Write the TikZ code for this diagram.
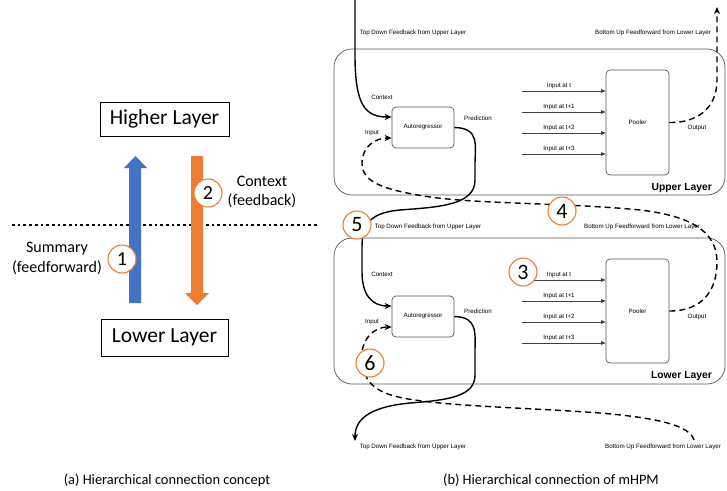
\documentclass[tikz,border=0pt]{standalone}
\usepackage{fontspec}
\setmainfont{Carlito}
\newfontfamily\hv{Liberation Sans}
\usetikzlibrary{arrows.meta,calc}
\definecolor{offblue}{HTML}{4472C4}
\definecolor{offorange}{HTML}{ED7D31}
\definecolor{boxgray}{HTML}{555555}
\begin{document}
\begin{tikzpicture}[x=1pt,y=-1pt,
  numcircl/.style={circle,draw=offorange,line width=1.1pt,fill=white,minimum size=28pt,inner sep=0pt,font=\fontsize{20}{20}\selectfont},
  numcircr/.style={circle,draw=offorange,line width=1.1pt,fill=white,minimum size=28pt,inner sep=0pt,font=\fontsize{22}{22}\selectfont},
  bigbox/.style={draw,line width=0.9pt,inner sep=0pt,font=\fontsize{21.5}{21.5}\selectfont},
  sidetext/.style={align=center,inner sep=0pt,font=\fontsize{16}{19.5}\selectfont},
  caption/.style={inner sep=0pt,font=\fontsize{14.4}{16}\selectfont},
  layerbox/.style={draw=boxgray,line width=0.7pt,rounded corners=18pt,minimum width=391pt,minimum height=146pt,inner sep=0pt},
  unitbox/.style={draw=boxgray,line width=0.7pt,rounded corners=4pt,inner sep=0pt,font=\hv\fontsize{6.2}{7}\selectfont},
  small/.style={font=\hv\fontsize{6.2}{7}\selectfont,inner sep=0pt},
  layername/.style={font=\hv\bfseries\fontsize{10.3}{11}\selectfont,inner sep=0pt,anchor=east},
  inarrow/.style={draw=black!75,line width=0.6pt,-{Triangle[length=4.5pt,width=3.5pt]}},
  solidflow/.style={draw=black,line width=1.4pt,-{Stealth[length=7pt,width=6pt]}},
  dashflow/.style={draw=black,line width=1.4pt,dash pattern=on 6pt off 4pt,-{Stealth[length=7pt,width=6pt]}},
]
\useasboundingbox (0,0) rectangle (727,490);
\fill[white] (0,0) rectangle (727,490);

% ---------------- (a) left part ----------------
\node[bigbox,minimum width=129pt,minimum height=34pt] (HL) at (164.5,119) {Higher Layer};
\node[bigbox,minimum width=127pt,minimum height=37pt] (LL) at (164.5,337.5) {Lower Layer};
\draw[line width=2.7pt,dash pattern=on 2.7pt off 3pt] (12,225) -- (318,225);
\fill[offblue] (129,303) -- (129,168) -- (124,168) -- (135.5,156) -- (147,168) -- (141,168) -- (141,303) -- cycle;
\fill[offorange] (191,156) -- (191,293) -- (185,293) -- (197,305) -- (209,293) -- (203,293) -- (203,156) -- cycle;
\node[sidetext] (ctxa) at (262,192) {Context\\(feedback)};
\node[sidetext] (suma) at (57,258.5) {Summary\\(feedforward)};
\node[numcircl] (n1) at (122,259) {1};
\node[numcircl] (n2) at (208,193) {2};
\node[caption] (capa) at (167,480) {(a) Hierarchical connection concept};

% ---------------- (b) right part ----------------
\node[layerbox] (UL) at (529.5,122) {};
\node[layerbox] (LLb) at (529.5,311) {};
\node[layername] at (712,188) {Upper Layer};
\node[layername] at (712,376) {Lower Layer};

\node[unitbox,minimum width=62pt,minimum height=41pt] (ARu) at (423,127.5) {Autoregressor};
\node[unitbox,minimum width=62pt,minimum height=41pt] (ARl) at (423,316.5) {Autoregressor};
\node[unitbox,minimum width=63pt,minimum height=105pt] (Pu) at (637.5,122.5) {Pooler};
\node[unitbox,minimum width=63pt,minimum height=104pt] (Pl) at (637.5,311) {Pooler};

\coordinate (ARuctx) at ($(ARu.west)+(0,-10.5)$);
\coordinate (ARuin) at ($(ARu.west)+(0,10.5)$);
\coordinate (ARlctx) at ($(ARl.west)+(0,-10.5)$);
\coordinate (ARlin) at ($(ARl.west)+(0,10.5)$);
\coordinate (tdTop) at (355,0);
\coordinate (buTop) at (717,7);
\coordinate (tdBot) at (355,441);
\coordinate (buBot) at (694,440);

% input arrows
\foreach \y/\t [count=\i] in {91/t,112/t+1,133/t+2,154/t+3}{
  \coordinate (ui\i) at (522,\y);
  \draw[inarrow] (ui\i) -- (ui\i -| Pu.west);
  \node[small,anchor=south] at (559,\y-2) {Input at \t};
}
\foreach \y/\t [count=\i] in {280/t,301/t+1,322/t+2,343/t+3}{
  \coordinate (li\i) at (522,\y);
  \draw[inarrow] (li\i) -- (li\i -| Pl.west);
  \node[small,anchor=south] at (559,\y-2) {Input at \t};
}

% labels
\node[small] at (382,97) {Context};
\node[small] at (372,133) {Input};
\node[small] at (478,118) {Prediction};
\node[small] at (697,128) {Output};
\node[small] at (382,274) {Context};
\node[small] at (372,322) {Input};
\node[small] at (478,311) {Prediction};
\node[small] at (697,317) {Output};
\node[small] at (413,33) {Top Down Feedback from Upper Layer};
\node[small] at (653,33) {Bottom Up Feedforward from Lower Layer};
\node[small] at (428,227) {Top Down Feedback from Upper Layer};
\node[small] at (642,227) {Bottom Up Feedforward from Lower Layer};
\node[small] at (413,447) {Top Down Feedback from Upper Layer};
\node[small] at (663,447) {Bottom Up Feedforward from Lower Layer};

% flows
\draw[solidflow] (tdTop) -- (355,55) .. controls (355,105) and (365,117) .. (ARuctx);
\draw[solidflow] (ARu.east) .. controls (480,128) and (475,145) .. (475,165) -- (475,180)
  .. controls (475,205) and (440,207) .. (400,210) .. controls (366,213) and (362,228) .. (362,248)
  -- (362,272) .. controls (362,295) and (372,306) .. (ARlctx);
\draw[dashflow] (Pu.east) .. controls (695,123) and (717,110) .. (717,80) -- (buTop);
\draw[dashflow] (Pl.east) .. controls (703,311) and (717,290) .. (717,262)
  .. controls (717,232) and (692,216) .. (640,210) .. controls (570,203) and (480,204) .. (430,197)
  .. controls (385,190) and (362,183) .. (362,163) .. controls (362,147) and (375,138) .. (ARuin);
\draw[solidflow] (ARl.east) .. controls (478,317) and (475,333) .. (475,352) -- (475,375)
  .. controls (475,396) and (450,400) .. (410,403) .. controls (368,407) and (355,420) .. (tdBot);
\draw[dashflow] (buBot) .. controls (690,426) and (660,418) .. (600,413)
  .. controls (520,407) and (420,406) .. (388,394) .. controls (366,386) and (362,372) .. (362,355)
  .. controls (362,338) and (375,327) .. (ARlin);

% numbered circles
\node[numcircr] (n3) at (523,272) {3};
\node[numcircr] (n4) at (562,211) {4};
\node[numcircr] (n5) at (357,225) {5};
\node[numcircr] (n6) at (370,363) {6};

\node[caption] (capb) at (551,480) {(b) Hierarchical connection of mHPM};
\end{tikzpicture}
\end{document}
